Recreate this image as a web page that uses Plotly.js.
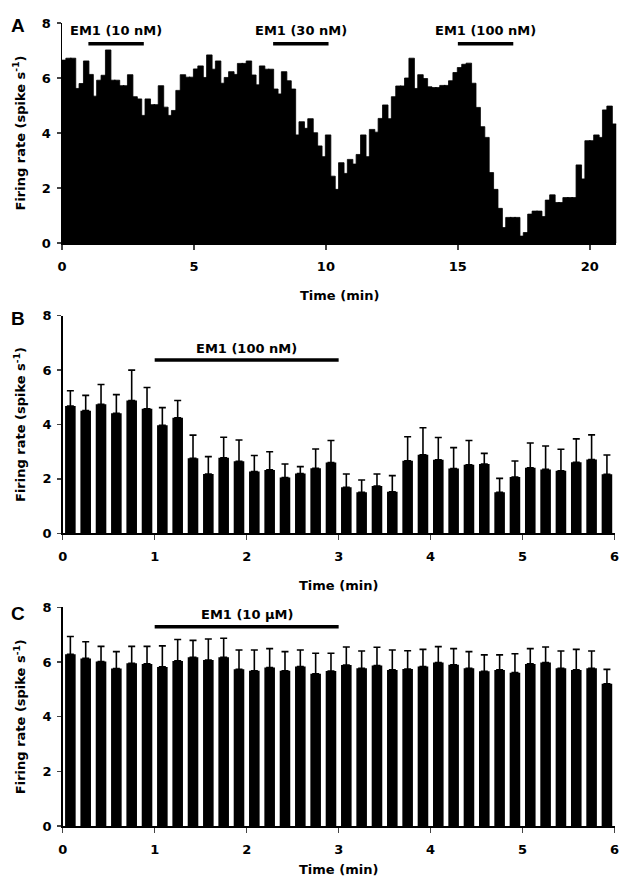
<!DOCTYPE html>
<html>
<head>
<meta charset="utf-8">
<script src="https://cdn.plot.ly/plotly-3.0.1.min.js"></script>
<style>html,body{margin:0;padding:0;background:#fff;}#chart{width:619px;height:887px;}</style>
</head>
<body>
<div id="chart"></div>
<script>
// ---------- DATA ----------
// Panel A: firing-rate histogram, 10-s bins over 21 min (spike/s)
const binMinA = 1 / 6;
const rateA = [
  6.65, 6.72, 6.72, 5.62, 5.80, 6.62, 6.13, 5.34, 5.92, 6.10,
  7.02, 5.92, 5.92, 5.72, 5.72, 6.12, 5.32, 5.24, 4.64, 5.24,
  5.03, 5.03, 5.72, 4.94, 4.64, 4.82, 5.55, 6.12, 6.03, 6.03,
  6.33, 6.44, 6.02, 6.84, 6.32, 6.62, 5.81, 6.02, 6.23, 6.13,
  6.53, 6.53, 6.62, 6.11, 5.75, 6.44, 6.32, 6.32, 5.60, 5.42,
  6.23, 5.90, 5.60, 3.93, 4.41, 4.17, 4.52, 4.01, 3.53, 3.14,
  3.93, 2.43, 1.95, 2.92, 2.53, 3.04, 2.87, 3.22, 3.93, 3.14,
  4.13, 4.03, 4.53, 5.02, 4.52, 5.32, 5.71, 5.71, 6.00, 6.72,
  5.62, 6.12, 5.98, 5.68, 5.65, 5.65, 5.73, 5.73, 5.90, 6.20,
  6.38, 6.50, 6.54, 5.81, 4.93, 4.23, 3.84, 2.56, 1.95, 1.26,
  0.56, 0.93, 0.93, 0.93, 0.25, 0.38, 1.05, 1.16, 1.16, 0.96,
  1.56, 1.75, 1.47, 1.47, 1.65, 1.65, 1.65, 2.84, 2.33, 3.72,
  3.72, 3.93, 3.84, 4.84, 4.98, 4.33
];
const treatLabelA = ['EM1 (10 nM)', 'EM1 (30 nM)', 'EM1 (100 nM)'];
const treatStartA = [1, 8, 15];
const treatEndA = [3.1, 10.1, 17.1];

// Panel B: mean firing rate (10-s bins, 6 min) with SEM
const binMinBC = 1 / 6;
const meanB = [
  4.68, 4.51, 4.74, 4.41, 4.88, 4.58, 3.97, 4.25, 2.76, 2.18,
  2.78, 2.65, 2.27, 2.33, 2.05, 2.20, 2.39, 2.60, 1.69, 1.51,
  1.74, 1.53, 2.67, 2.89, 2.70, 2.38, 2.52, 2.55, 1.51, 2.07,
  2.41, 2.35, 2.30, 2.61, 2.71, 2.17
];
const semB = [
  0.56, 0.56, 0.73, 0.69, 1.12, 0.78, 0.65, 0.63, 0.85, 0.64,
  0.75, 0.78, 0.59, 0.67, 0.50, 0.25, 0.71, 0.81, 0.49, 0.45,
  0.44, 0.59, 0.88, 0.99, 0.82, 0.77, 0.89, 0.39, 0.51, 0.59,
  0.91, 0.86, 0.79, 0.86, 0.91, 0.71
];
const treatLabelB = ['EM1 (100 nM)'];
const treatStartB = [1];
const treatEndB = [3];

// Panel C
const meanC = [
  6.28, 6.13, 6.02, 5.76, 5.95, 5.93, 5.82, 6.04, 6.17, 6.07,
  6.17, 5.73, 5.68, 5.80, 5.68, 5.83, 5.57, 5.67, 5.89, 5.77,
  5.87, 5.71, 5.74, 5.83, 5.98, 5.90, 5.77, 5.66, 5.71, 5.61,
  5.93, 5.98, 5.77, 5.71, 5.77, 5.20
];
const semC = [
  0.65, 0.61, 0.55, 0.62, 0.62, 0.64, 0.77, 0.78, 0.62, 0.77,
  0.70, 0.71, 0.76, 0.69, 0.70, 0.61, 0.75, 0.65, 0.66, 0.63,
  0.67, 0.73, 0.67, 0.63, 0.58, 0.59, 0.61, 0.60, 0.55, 0.69,
  0.56, 0.57, 0.63, 0.75, 0.63, 0.53
];
const treatLabelC = ['EM1 (10 \u00b5M)'];
const treatStartC = [1];
const treatEndC = [3];

const yTickVals = [0, 2, 4, 6, 8];
const xTicksA = [0, 5, 10, 15, 20];
const xTicksBC = [0, 1, 2, 3, 4, 5, 6];
const yTitle = 'Firing rate (spike s<sup>-1</sup>)';
const xTitle = 'Time (min)';
const panelLetters = ['A', 'B', 'C'];

// ---------- BUILD ----------
const FONT = 'DejaVu Sans';
const binCenters = (n, w) => Array.from({length: n}, (_, i) => (i + 0.5) * w);

const traces = [
  {type: 'bar', x: binCenters(rateA.length, binMinA), y: rateA, width: binMinA * 1.25,
   xaxis: 'x', yaxis: 'y', marker: {color: '#000', line: {color: '#000', width: 0.8}},
   hoverinfo: 'x+y', showlegend: false},
  {type: 'bar', x: binCenters(meanB.length, binMinBC), y: meanB,
   xaxis: 'x2', yaxis: 'y2', marker: {color: '#000', line: {width: 0}},
   error_y: {type: 'data', array: semB, symmetric: false, arrayminus: semB.map(() => 0),
             color: '#000', thickness: 1.6, width: 3.5},
   showlegend: false},
  {type: 'bar', x: binCenters(meanC.length, binMinBC), y: meanC,
   xaxis: 'x3', yaxis: 'y3', marker: {color: '#000', line: {width: 0}},
   error_y: {type: 'data', array: semC, symmetric: false, arrayminus: semC.map(() => 0),
             color: '#000', thickness: 1.6, width: 3.5},
   showlegend: false}
];

const TICKFONT = {family: FONT, size: 13, color: '#000', weight: 'bold'};
const baseY = {
  range: [0, 8], tickvals: yTickVals, ticks: 'outside', ticklen: 4, tickwidth: 1.5,
  showline: true, linecolor: '#000', linewidth: 1.5, showgrid: false, zeroline: false,
  tickfont: TICKFONT, ticklabelstandoff: 3, ticklabeloverflow: 'allow', fixedrange: true
};
const baseX = {
  ticks: 'outside', ticklen: 5, tickwidth: 1.5, showline: true, linecolor: '#000', linewidth: 1.5,
  showgrid: false, zeroline: false,
  tickfont: TICKFONT, ticklabelstandoff: 6, ticklabeloverflow: 'allow', fixedrange: true
};

const dom = {
  xA: [62 / 619, 616.2 / 619], xBC: [62.7 / 619, 614.6 / 619],
  yA: [1 - 243 / 887, 1 - 23 / 887],
  yB: [1 - 533.3 / 887, 1 - 315.7 / 887],
  yC: [1 - 826 / 887, 1 - 607.3 / 887]
};

const layout = {
  width: 619, height: 887, margin: {l: 0, r: 0, t: 0, b: 0},
  paper_bgcolor: '#fff', plot_bgcolor: '#fff',
  font: {family: FONT, size: 13, color: '#000', weight: 'bold'},
  bargap: 0.31, showlegend: false,
  xaxis: Object.assign({}, baseX, {domain: dom.xA, range: [0, 21], tickvals: xTicksA, anchor: 'y'}),
  yaxis: Object.assign({}, baseY, {domain: dom.yA, anchor: 'x'}),
  xaxis2: Object.assign({}, baseX, {domain: dom.xBC, range: [0, 6], tickvals: xTicksBC, anchor: 'y2'}),
  yaxis2: Object.assign({}, baseY, {domain: dom.yB, anchor: 'x2'}),
  xaxis3: Object.assign({}, baseX, {domain: dom.xBC, range: [0, 6], tickvals: xTicksBC, anchor: 'y3'}),
  yaxis3: Object.assign({}, baseY, {domain: dom.yC, anchor: 'x3'}),
  shapes: [], annotations: []
};

function addTreat(labels, starts, ends, xr, yr, barY, textY) {
  labels.forEach((lab, i) => {
    layout.shapes.push({type: 'line', xref: xr, yref: yr, x0: starts[i], x1: ends[i], y0: barY, y1: barY,
      line: {color: '#000', width: 3.5}});
    layout.annotations.push({xref: xr, yref: yr, x: (starts[i] + ends[i]) / 2, y: textY, text: lab,
      showarrow: false, xanchor: 'center', yanchor: 'middle',
      font: {family: FONT, size: 13, color: '#000', weight: 'bold'}});
  });
}
addTreat(treatLabelA, treatStartA, treatEndA, 'x', 'y', 7.25, 7.73);
addTreat(treatLabelB, treatStartB, treatEndB, 'x2', 'y2', 6.37, 6.78);
addTreat(treatLabelC, treatStartC, treatEndC, 'x3', 'y3', 7.29, 7.72);

// axis titles & panel letters
const yCenters = [(dom.yA[0] + dom.yA[1]) / 2, (dom.yB[0] + dom.yB[1]) / 2, (dom.yC[0] + dom.yC[1]) / 2];
const xTitleY = [1 - 295 / 887, 1 - 585 / 887, 1 - 869 / 887];
const xTitleX = [(dom.xA[0] + dom.xA[1]) / 2, (dom.xBC[0] + dom.xBC[1]) / 2, (dom.xBC[0] + dom.xBC[1]) / 2];
const letterY = [1 - 25 / 887, 1 - 318 / 887, 1 - 613 / 887];
for (let i = 0; i < 3; i++) {
  layout.annotations.push({xref: 'paper', yref: 'paper', x: 19.5 / 619, y: yCenters[i], text: yTitle,
    textangle: -90, showarrow: false, xanchor: 'center', yanchor: 'middle',
    font: {family: FONT, size: 13, color: '#000', weight: 'bold'}});
  layout.annotations.push({xref: 'paper', yref: 'paper', x: xTitleX[i], y: xTitleY[i], text: xTitle,
    showarrow: false, xanchor: 'center', yanchor: 'middle',
    font: {family: FONT, size: 13, color: '#000', weight: 'bold'}});
  layout.annotations.push({xref: 'paper', yref: 'paper', x: 17.5 / 619, y: letterY[i], text: panelLetters[i],
    showarrow: false, xanchor: 'center', yanchor: 'middle',
    font: {family: 'Liberation Sans', size: 19, color: '#000', weight: 'bold'}});
}

Plotly.newPlot('chart', traces, layout, {displayModeBar: false, staticPlot: true});
</script>
</body>
</html>
